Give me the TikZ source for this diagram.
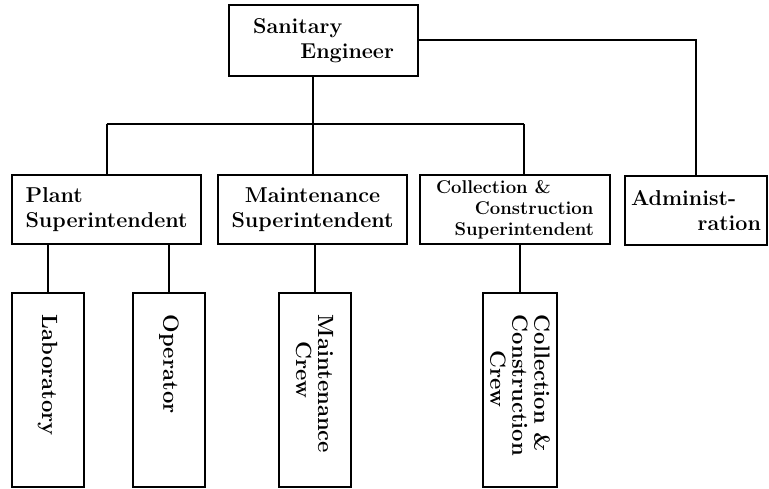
\documentclass[tikz,border=0pt]{standalone}
\usepackage{tikz}

\begin{document}
\begin{tikzpicture}[x=1pt, y=-1pt,
    office/.style ={rectangle, draw, line width=2pt, inner sep=0pt, align=left,
                    font=\fontsize{21.5}{25}\selectfont\bfseries},
    crew/.style ={rectangle, draw, line width=2pt, inner sep=0pt,
                  minimum width=72pt, minimum height=194pt,
                  font=\fontsize{22}{22}\selectfont\bfseries},
    link/.style ={line width=2pt}]
   \useasboundingbox (0,0) rectangle (769,489);
   \node[office, minimum width=189pt, minimum height=71pt] (E) at (323.5,40.5) {Sanitary\\\hspace*{2.2em}Engineer};
   \node[office, minimum width=189pt, minimum height=69pt] (P) at (106.5,209.5) {Plant\\Superintendent};
   \node[office, minimum width=189pt, minimum height=69pt, align=center] (M) at (312.5,209.5) {Maintenance\\Superintendent};
   \node[office, minimum width=190pt, minimum height=69pt, font=\fontsize{18.5}{21}\selectfont\bfseries] (C) at (515,209.5) {Collection \&\\\hspace*{2.1em}Construction\\\hspace*{1em}Superintendent};
   \node[office, minimum width=142pt, minimum height=69pt] (A) at (696,211) {Administ-\\\hspace*{3.1em}ration};

   \node[crew] (L) at (47.5,390) {\rotatebox{-90}{\parbox{150pt}{Laboratory}}};
   \node[crew] (O) at (169,390) {\rotatebox{-90}{\parbox{150pt}{Operator}}};
   \node[crew] (MC) at (314.5,390) {\rotatebox{-90}{\parbox{150pt}{Maintenance\\\hspace*{1.2em}Crew}}};
   \node[crew, minimum width=74pt] (CC) at (520,390) {\rotatebox{-90}{\parbox{150pt}{Collection \&\\Construction\\\hspace*{1.6em}Crew}}};

   \coordinate (bus) at (0,124);
   \coordinate (CN) at ([xshift=9pt]C.north);

   \draw[link] (M.north |- E.south) to (M.north);
   \draw[link] (E.east) -| (A.north);
   \draw[link] (P.north |- bus) to (CN |- bus);
   \draw[link] (P.north |- bus) to (P.north);
   \draw[link] (CN |- bus) to (CN);
   \draw[link] (L.north |- P.south) to (L.north);
   \draw[link] (O.north |- P.south) to (O.north);
   \draw[link] (MC.north |- M.south) to (MC.north);
   \draw[link] (CC.north |- C.south) to (CC.north);
 \end{tikzpicture}
\end{document}
